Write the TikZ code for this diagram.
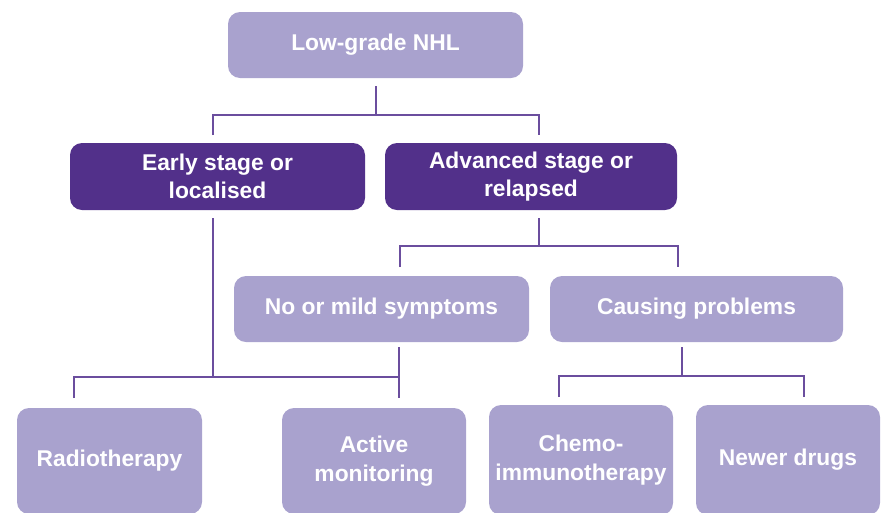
\documentclass[tikz,border=0pt]{standalone}
\usepackage{fontspec}
\setmainfont{Liberation Sans}
\definecolor{lav}{HTML}{A9A2CE}
\definecolor{dpurp}{HTML}{52308A}
\definecolor{linec}{HTML}{6B4E9E}
\begin{document}
\begin{tikzpicture}[x=1pt,y=-1pt,
  box/.style={rounded corners=12pt, inner sep=0pt, align=center, text=white,
    font=\bfseries\fontsize{22.8}{28.5}\selectfont},
  lbox/.style={box, fill=lav},
  dbox/.style={box, fill=dpurp},
  conn/.style={draw=linec, line width=1.4pt}]
\useasboundingbox (0,0) rectangle (883,512);
\begin{scope}
\clip (0,0) rectangle (883,512);
\node[lbox, minimum width=295pt, minimum height=66pt] (low) at (375.5,45) {Low-grade NHL};
\node[dbox, minimum width=295pt, minimum height=67pt] (early) at (217.5,176.5) {Early stage or\\localised};
\node[dbox, minimum width=292pt, minimum height=67pt] (adv) at (531,176.5) {Advanced stage or\\relapsed};
\node[lbox, minimum width=295pt, minimum height=66pt] (mild) at (381.5,309) {No or mild symptoms};
\node[lbox, minimum width=293pt, minimum height=66pt] (caus) at (696.5,309) {Causing problems};
\node[lbox, minimum width=185pt, minimum height=106pt] (radio) at (109.5,461) {Radiotherapy};
\node[lbox, minimum width=184pt, minimum height=106pt] (active) at (374,461) {Active\\monitoring};
\node[lbox, minimum width=184pt, minimum height=110pt] (chemo) at (581,460) {Chemo-\\immunotherapy};
\node[lbox, minimum width=184pt, minimum height=110pt] (newer) at (788,460) {Newer drugs};
\end{scope}
% connector points
\coordinate (a0) at (376,86);  \coordinate (a1) at (376,115);
\coordinate (a2) at (213,115); \coordinate (a3) at (213,135);
\coordinate (a4) at (539,115); \coordinate (a5) at (539,135);
\coordinate (b0) at (213,218); \coordinate (b1) at (213,377);
\coordinate (b2) at (74,377);  \coordinate (b3) at (74,398);
\coordinate (b4) at (399,347); \coordinate (b5) at (399,377); \coordinate (b6) at (399,398);
\coordinate (c0) at (539,218); \coordinate (c1) at (539,246);
\coordinate (c2) at (400,246); \coordinate (c3) at (400,267);
\coordinate (c4) at (678,246); \coordinate (c5) at (678,267);
\coordinate (d0) at (682,347); \coordinate (d1) at (682,376);
\coordinate (d2) at (559,376); \coordinate (d3) at (559,397);
\coordinate (d4) at (804,376); \coordinate (d5) at (804,397);
\draw[conn] (a0) -- (a1);
\draw[conn] (a3) -- (a2) -- (a4) -- (a5);
\draw[conn] (b0) -- (b1);
\draw[conn] (b3) -- (b2) -- (b5);
\draw[conn] (b4) -- (b6);
\draw[conn] (c0) -- (c1);
\draw[conn] (c3) -- (c2) -- (c4) -- (c5);
\draw[conn] (d0) -- (d1);
\draw[conn] (d3) -- (d2) -- (d4) -- (d5);
\end{tikzpicture}
\end{document}
